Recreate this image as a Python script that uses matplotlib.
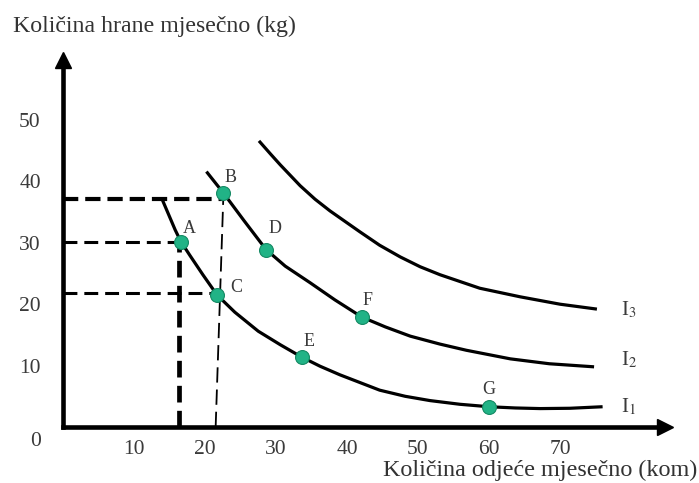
import matplotlib
matplotlib.use('Agg')
import matplotlib.pyplot as plt

plt.rcParams['font.family'] = 'Liberation Serif'
plt.rcParams['mathtext.fontset'] = 'stix'
plt.rcParams['lines.scale_dashes'] = False

# ---- data ----
x_ticks = [10, 20, 30, 40, 50, 60, 70]
y_ticks = [10, 20, 30, 40, 50]

# indifference curves
i1_x = [13.9, 15.8, 16.6, 17.9, 19.7, 21.7, 24.2, 27.5, 30.6, 33.6, 36.2, 39.0,
        44.6, 48.2, 51.7, 55.9, 60.0, 63.7, 67.2, 71.4, 76.0]
i1_y = [37.25, 32.1, 30.2, 27.9, 24.8, 21.5, 18.7, 15.6, 13.4, 11.4, 9.9, 8.5,
        6.0, 5.0, 4.3, 3.7, 3.3, 3.1, 3.0, 3.05, 3.3]
i2_x = [20.2, 22.6, 25.5, 28.6, 31.3, 34.8, 38.3, 42.1, 45.4, 48.9, 53.1, 56.8,
        63.0, 68.5, 74.8]
i2_y = [41.6, 38.1, 33.6, 28.9, 26.2, 23.5, 20.7, 17.9, 16.3, 14.8, 13.5, 12.5,
        11.1, 10.3, 9.8]
i3_x = [27.6, 29.2, 30.6, 33.4, 35.5, 37.6, 41.8, 44.6, 47.5, 50.3, 53.1, 58.7,
        64.4, 70.0, 75.2]
i3_y = [46.6, 44.5, 42.7, 39.3, 37.1, 35.2, 31.8, 29.6, 27.7, 26.1, 24.8, 22.6,
        21.2, 20.0, 19.2]
curve_names = ['I$_1$', 'I$_2$', 'I$_3$']
curve_label_y = [3.3, 10.9, 19.1]

# bundles A..G
pt_names = ['A', 'B', 'C', 'D', 'E', 'F', 'G']
pt_x = [16.6, 22.6, 21.7, 28.6, 33.6, 42.1, 60.0]
pt_y = [30.2, 38.1, 21.5, 28.9, 11.4, 17.9, 3.3]

# guide levels
a_food, b_food, c_food = 30.2, 37.2, 21.8
a_cloth, c_cloth = 16.4, 22.0

# ---- figure ----
fig = plt.figure(figsize=(6.99, 4.83), dpi=100)
ax = fig.add_axes([0, 0, 1, 1])
ax.set_xlim(-63 / 7.1, (699 - 63) / 7.1)
ax.set_ylim((427 - 483) / 6.14, 427 / 6.14)

for s in ['top', 'right']:
    ax.spines[s].set_visible(False)
for s in ['left', 'bottom']:
    ax.spines[s].set_position(('data', 0))
    ax.spines[s].set_linewidth(3.3)
    ax.spines[s].set_capstyle('projecting')
ax.spines['left'].set_bounds(0, 59)
ax.spines['bottom'].set_bounds(0, 84)

# arrow heads
ax.plot(0, 59.8, marker='^', ms=11, color='black', clip_on=False)
ax.plot(84.8, 0, marker='>', ms=11, color='black', clip_on=False)

ax.set_xticks(x_ticks)
ax.set_yticks(y_ticks)
ax.tick_params(length=0, labelsize=15.5, labelcolor='#3a3a3a')
ax.tick_params(axis='y', pad=16)
ax.tick_params(axis='x', pad=9)
ax.text(-3.8, -2.3, '0', fontsize=15.5, color='#3a3a3a', ha='center', va='center')

# dashed guides
ax.plot([0, pt_x[1]], [b_food, b_food], color='black', lw=3.0, dashes=(11, 5))
ax.plot([0, pt_x[0]], [a_food, a_food], color='black', lw=2.2, dashes=(10, 5))
ax.plot([0, c_cloth], [c_food, c_food], color='black', lw=2.2, dashes=(10, 5))
ax.plot([a_cloth, a_cloth], [0, a_food], color='black', lw=3.4, dashes=(12, 6))
ax.plot([c_cloth - 0.5, pt_x[1]], [0, pt_y[1]], color='black', lw=1.3, dashes=(11, 5))

# curves
for cx, cy in [(i1_x, i1_y), (i2_x, i2_y), (i3_x, i3_y)]:
    ax.plot(cx, cy, color='black', lw=2.3, solid_capstyle='butt', solid_joinstyle='round')
for name, ly in zip(curve_names, curve_label_y):
    ax.text(78.6, ly, name, fontsize=15, color='#3a3a3a', ha='left', va='center')

# points
ax.plot(pt_x, pt_y, 'o', ms=10, color='#21b386', mec='#158a64', mew=0.8, zorder=5)
offsets = {'A': (8, 13), 'B': (7, 16), 'C': (19, 7), 'D': (9, 21),
           'E': (7, 16), 'F': (6, 17), 'G': (0, 17)}
for n, x, y in zip(pt_names, pt_x, pt_y):
    ax.annotate(n, (x, y), xytext=offsets[n], textcoords='offset pixels',
                fontsize=13, color='#3a3a3a', ha='center', va='center')

ax.text(-7.1, 65.2, 'Količina hrane mjesečno (kg)', fontsize=17.2, color='#333333',
        ha='left', va='center')
ax.text(89.3, -7.0, 'Količina odjeće mjesečno (kom)', fontsize=17.4, color='#333333',
        ha='right', va='center')

fig.savefig('out.png', dpi=100)
